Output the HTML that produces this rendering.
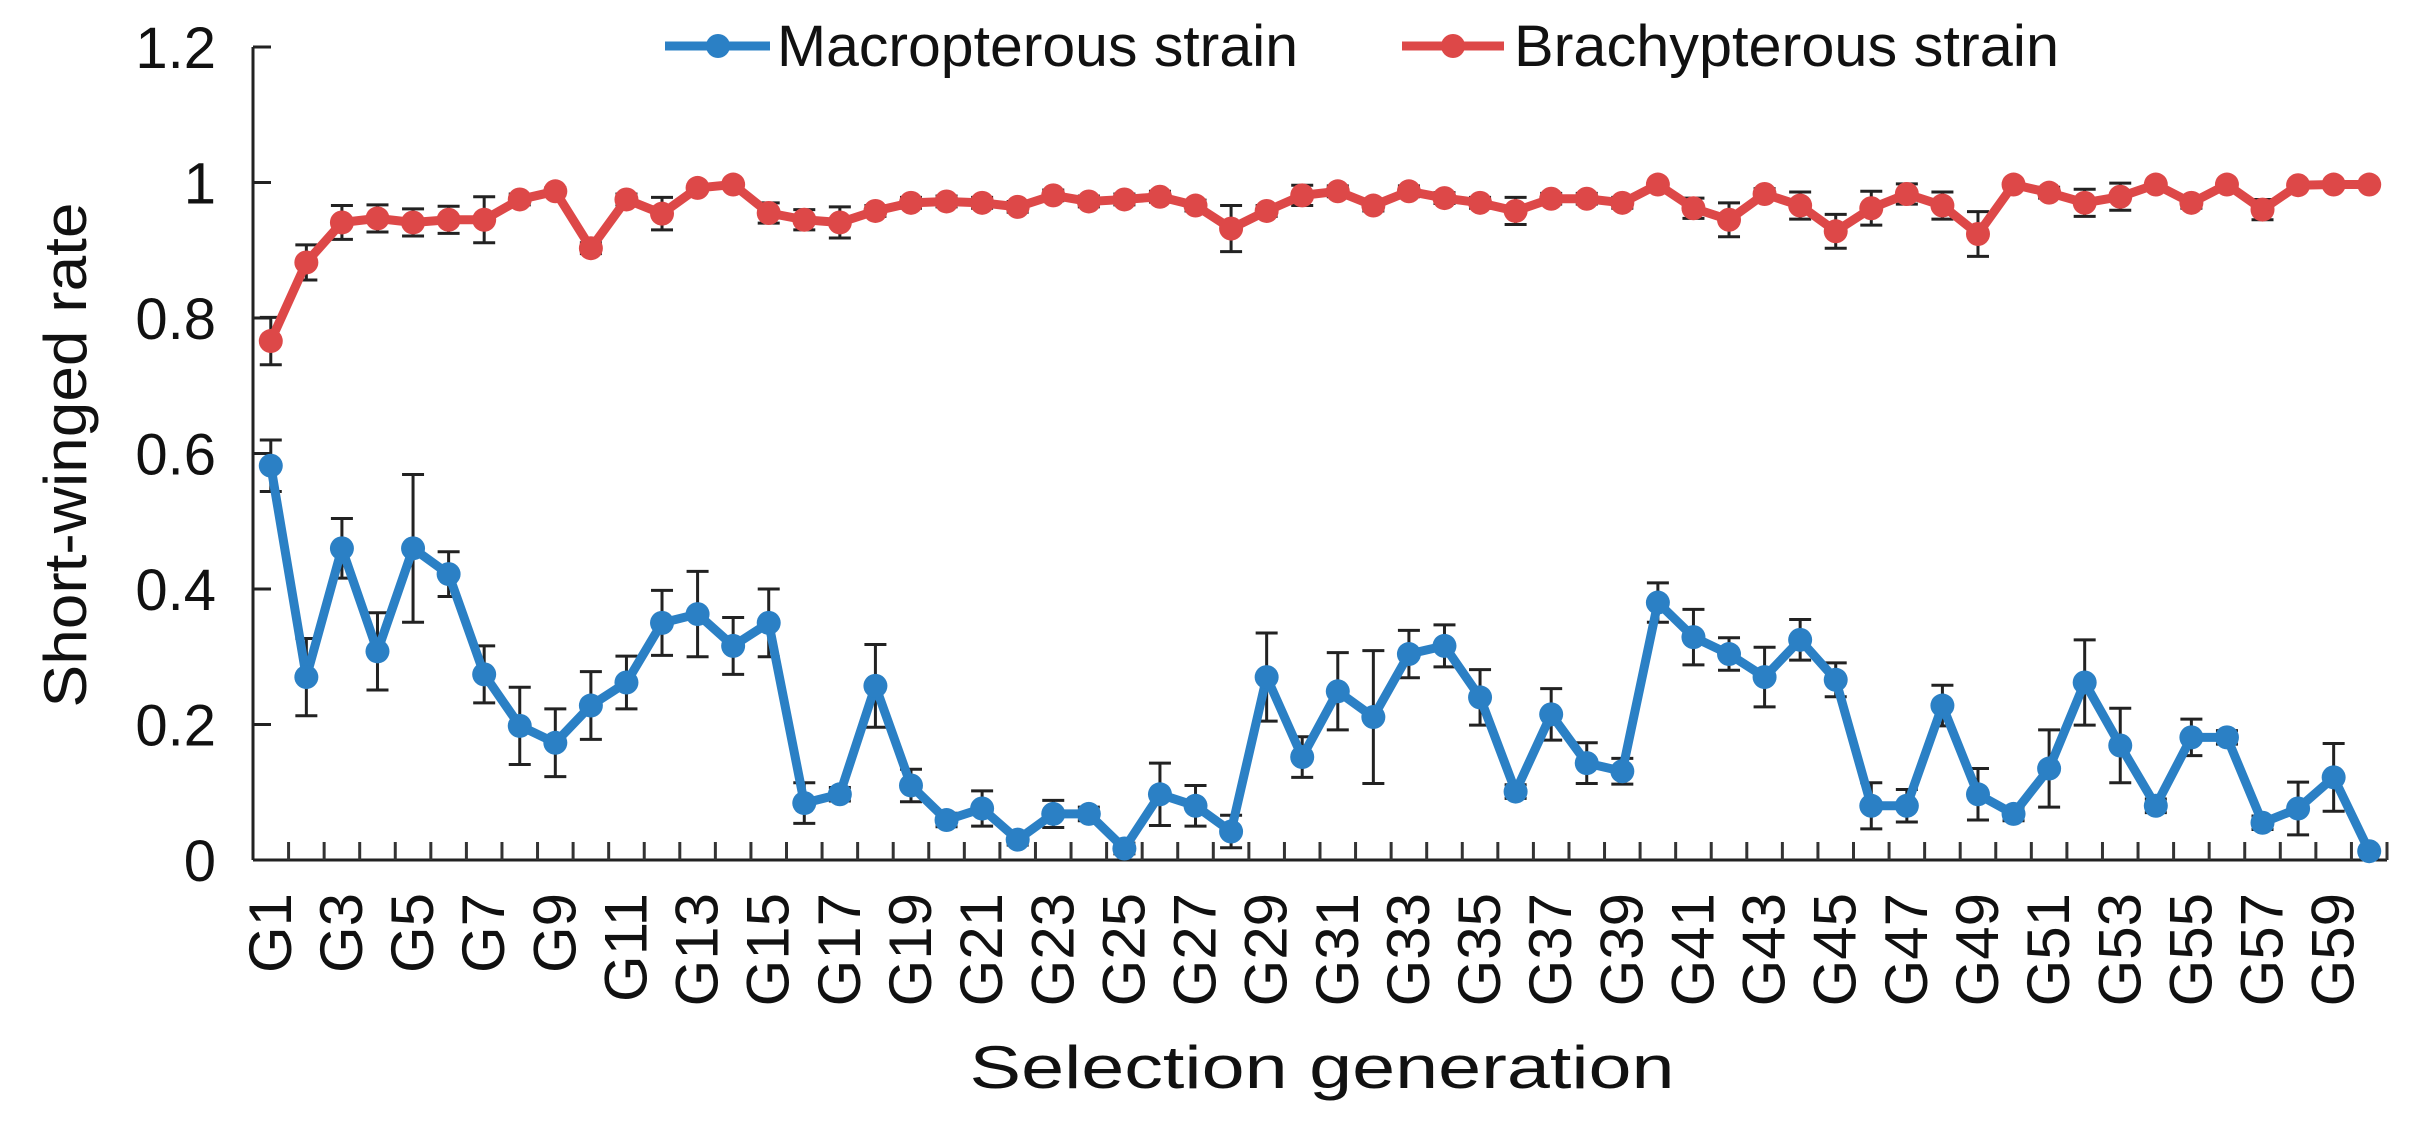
<!DOCTYPE html>
<html><head><meta charset="utf-8"><style>
html,body{margin:0;padding:0;background:#fff;}
svg{display:block;font-family:"Liberation Sans",Arial,sans-serif;}
</style></head><body>
<svg id="chart" width="2424" height="1124" viewBox="0 0 2424 1124" xmlns="http://www.w3.org/2000/svg">
<g id="legend">
 <g>
  <line x1="665" y1="46" x2="770" y2="46" stroke="#2b80c5" stroke-width="9"/>
  <circle cx="718" cy="46" r="12" fill="#2b80c5"/>
  <text x="777" y="66" font-size="58" fill="#111" textLength="521" lengthAdjust="spacingAndGlyphs">Macropterous strain</text>
 </g>
 <g>
  <line x1="1402" y1="46" x2="1504" y2="46" stroke="#dd4848" stroke-width="9"/>
  <circle cx="1453" cy="46" r="12" fill="#dd4848"/>
  <text x="1514" y="66" font-size="58" fill="#111" textLength="545" lengthAdjust="spacingAndGlyphs">Brachypterous strain</text>
 </g>
</g>
<g id="axes"></g>
<g id="series"></g>
<text transform="translate(86,455) rotate(-90)" text-anchor="middle" font-size="60" fill="#111" textLength="505" lengthAdjust="spacingAndGlyphs">Short-winged rate</text>
<text x="1322" y="1088" text-anchor="middle" font-size="60" fill="#111" textLength="705" lengthAdjust="spacingAndGlyphs">Selection generation</text>
</svg>
<script>
const categories = [];
for (let i = 1; i <= 60; i++) categories.push('G' + i);
const yTicks = [0, 0.2, 0.4, 0.6, 0.8, 1, 1.2];
const yTickLabels = ['0', '0.2', '0.4', '0.6', '0.8', '1', '1.2'];
const macroValues = [0.582,0.270,0.460,0.308,0.460,0.422,0.274,0.198,0.173,0.228,0.262,0.350,0.363,0.316,0.350,
 0.084,0.097,0.257,0.110,0.059,0.076,0.030,0.068,0.068,0.017,0.097,0.080,0.042,0.270,0.152,
 0.249,0.211,0.304,0.316,0.240,0.101,0.215,0.143,0.131,0.380,0.329,0.304,0.270,0.325,0.266,
 0.080,0.080,0.228,0.097,0.068,0.135,0.262,0.169,0.080,0.181,0.181,0.055,0.076,0.122,0.013];
const macroErrors = [0.038,0.057,0.044,0.057,0.109,0.033,0.042,0.057,0.050,0.050,0.039,0.048,0.063,0.042,0.050,
 0.030,0.010,0.061,0.024,0.010,0.026,0.008,0.020,0.010,0.008,0.046,0.030,0.024,0.065,0.030,
 0.057,0.098,0.035,0.031,0.041,0.010,0.038,0.030,0.019,0.029,0.041,0.024,0.044,0.030,0.025,
 0.034,0.024,0.030,0.038,0.010,0.057,0.063,0.055,0.010,0.027,0.010,0.010,0.039,0.050,0.000];
const brachyValues = [0.766,0.882,0.941,0.947,0.941,0.945,0.945,0.975,0.987,0.903,0.975,0.954,0.992,0.997,0.955,
 0.945,0.941,0.958,0.970,0.972,0.970,0.964,0.981,0.972,0.975,0.979,0.966,0.932,0.958,0.981,
 0.987,0.966,0.987,0.977,0.970,0.958,0.976,0.976,0.970,0.997,0.962,0.945,0.983,0.966,0.928,
 0.962,0.983,0.966,0.924,0.997,0.985,0.970,0.979,0.997,0.970,0.997,0.960,0.996,0.997,0.997];
const brachyErrors = [0.035,0.026,0.025,0.020,0.020,0.020,0.034,0.008,0.005,0.008,0.008,0.024,0.005,0.003,0.015,
 0.015,0.023,0.008,0.008,0.008,0.008,0.008,0.008,0.008,0.008,0.008,0.008,0.034,0.008,0.015,
 0.008,0.008,0.008,0.008,0.008,0.020,0.008,0.008,0.008,0.003,0.015,0.025,0.008,0.020,0.025,
 0.025,0.015,0.020,0.033,0.003,0.008,0.020,0.020,0.003,0.008,0.003,0.015,0.004,0.003,0.003];

const NS = 'http://www.w3.org/2000/svg';
const plotLeft = 253, plotRight = 2387, y0px = 860, y12px = 47;
const band = (plotRight - plotLeft) / categories.length;
function xScale(i) { return plotLeft + band * (i + 0.5); }
function yScale(v) { return y0px - (v / 1.2) * (y0px - y12px); }
function mk(tag, attrs, parent) {
  const e = document.createElementNS(NS, tag);
  for (const k in attrs) e.setAttribute(k, attrs[k]);
  parent.appendChild(e);
  return e;
}
const axes = document.getElementById('axes');
const series = document.getElementById('series');

let el = mk('line', {x1: plotLeft, y1: y12px, x2: plotLeft, y2: y0px, stroke: '#222', 'stroke-width': 3}, axes);


el = mk('line', {x1: plotLeft, y1: y0px, x2: plotRight, y2: y0px, stroke: '#222', 'stroke-width': 3}, axes);



yTicks.forEach((t, i) => {
  const y = yScale(t);
  const tk = mk('line', {x1: plotLeft, y1: y, x2: plotLeft + 18, y2: y, stroke: '#222', 'stroke-width': 3}, axes);
  
  
  const lb = mk('text', {x: 216, y: y + 21, 'text-anchor': 'end', 'font-size': 58, fill: '#111'}, axes);
  lb.textContent = yTickLabels[i];
  
  
});
for (let i = 1; i <= categories.length; i++) {
  const x = plotLeft + band * i;
  const tk = mk('line', {x1: x, y1: y0px, x2: x, y2: y0px - 18, stroke: '#333', 'stroke-width': 3}, axes);
  
  
}
categories.forEach((c, i) => {
  if (i % 2 !== 0) return;
  const x = xScale(i) + 20, y = 893;
  const lb = mk('text', {transform: 'translate(' + x + ',' + y + ') rotate(-90)', 'text-anchor': 'end', 'font-size': 60, fill: '#111'}, axes);
  lb.textContent = c;
  
  
});

function drawSeries(vals, errs, color, name) {
  const g = mk('g', {}, series);
  
  
  vals.forEach((v, i) => {
    const x = xScale(i), e = errs[i];
    if (e > 0.004) {
      const eb = mk('path', {d: 'M' + x + ' ' + yScale(v + e) + 'V' + yScale(v - e) + 'M' + (x - 11) + ' ' + yScale(v + e) + 'H' + (x + 11) + 'M' + (x - 11) + ' ' + yScale(v - e) + 'H' + (x + 11), stroke: '#222', 'stroke-width': 3, fill: 'none'}, g);
      
      
    }
  });
  const pts = vals.map((v, i) => xScale(i) + ',' + yScale(v)).join(' ');
  const pl = mk('polyline', {points: pts, fill: 'none', stroke: color, 'stroke-width': 9, 'stroke-linejoin': 'round'}, g);
  
  
  vals.forEach((v, i) => {
    const c = mk('circle', {cx: xScale(i), cy: yScale(v), r: 12, fill: color}, g);
    
    
  });
}
drawSeries(brachyValues, brachyErrors, '#dd4848', 'brachypterous');
drawSeries(macroValues, macroErrors, '#2b80c5', 'macropterous');
</script>
</body></html>
